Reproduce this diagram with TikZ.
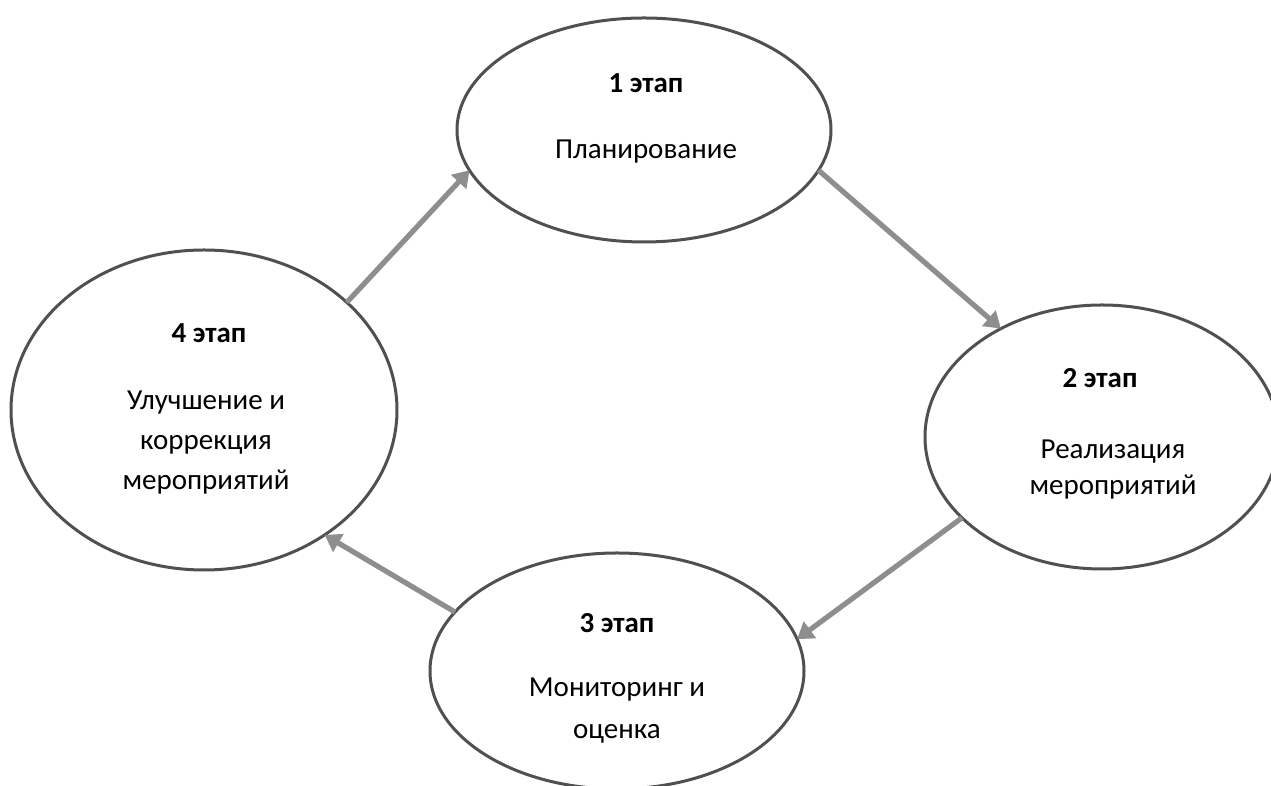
\documentclass[tikz,border=0pt]{standalone}
\usepackage{fontspec}
\setmainfont{Carlito}
\usetikzlibrary{shapes.geometric,arrows.meta}
\definecolor{ellcol}{HTML}{505050}
\definecolor{arrcol}{HTML}{8E8E8E}
\begin{document}
\begin{tikzpicture}[x=0.5pt,y=0.5pt,
  stage/.style={ellipse, draw=ellcol, line width=1.5pt, inner sep=0pt, outer sep=0pt, fill=white},
  ttl/.style={font=\fontsize{14.5}{20}\selectfont\bfseries, inner sep=0pt},
  body/.style={font=\fontsize{14.5}{20}\selectfont, align=center, inner sep=0pt},
  flow/.style={draw=arrcol, line width=2.6pt, -{Triangle[length=8pt,width=10pt]}}]
\clip (0,0) rectangle (1271,786);
\fill[white] (0,0) rectangle (1271,786);
% ellipses
\node[stage, minimum width=187pt, minimum height=112pt] (e1) at (644,656) {};
\node[stage, minimum width=177pt, minimum height=132pt] (e2) at (1102,349) {};
\node[stage, minimum width=187pt, minimum height=118pt] (e3) at (617,115) {};
\node[stage, minimum width=193pt, minimum height=160pt] (e4) at (204,376) {};
% texts
\node[ttl] (t1) at (646,703) {1 этап};
\node[body] (b1) at (646,634) {Планирование};
\node[ttl] (t2) at (1100,408) {2 этап};
\node[body, font=\fontsize{14.5}{18}\selectfont] (b2) at (1113,316) {Реализация\\мероприятий};
\node[ttl] (t3) at (617,163) {3 этап};
\node[body, font=\fontsize{14.5}{21}\selectfont] (b3) at (617,75) {Мониторинг и\\оценка};
\node[ttl] (t4) at (209,453) {4 этап};
\node[body] (b4) at (206,343) {Улучшение и\\коррекция\\мероприятий};
% arrows
\draw[flow] (e4.37.7) -- (e1.193.7);
\draw[flow] (e1.347) -- (e2.133.7);
\draw[flow] (e2.210.3) -- (e3.10.7);
\draw[flow] (e3.160.7) -- (e4.314);
\end{tikzpicture}
\end{document}
